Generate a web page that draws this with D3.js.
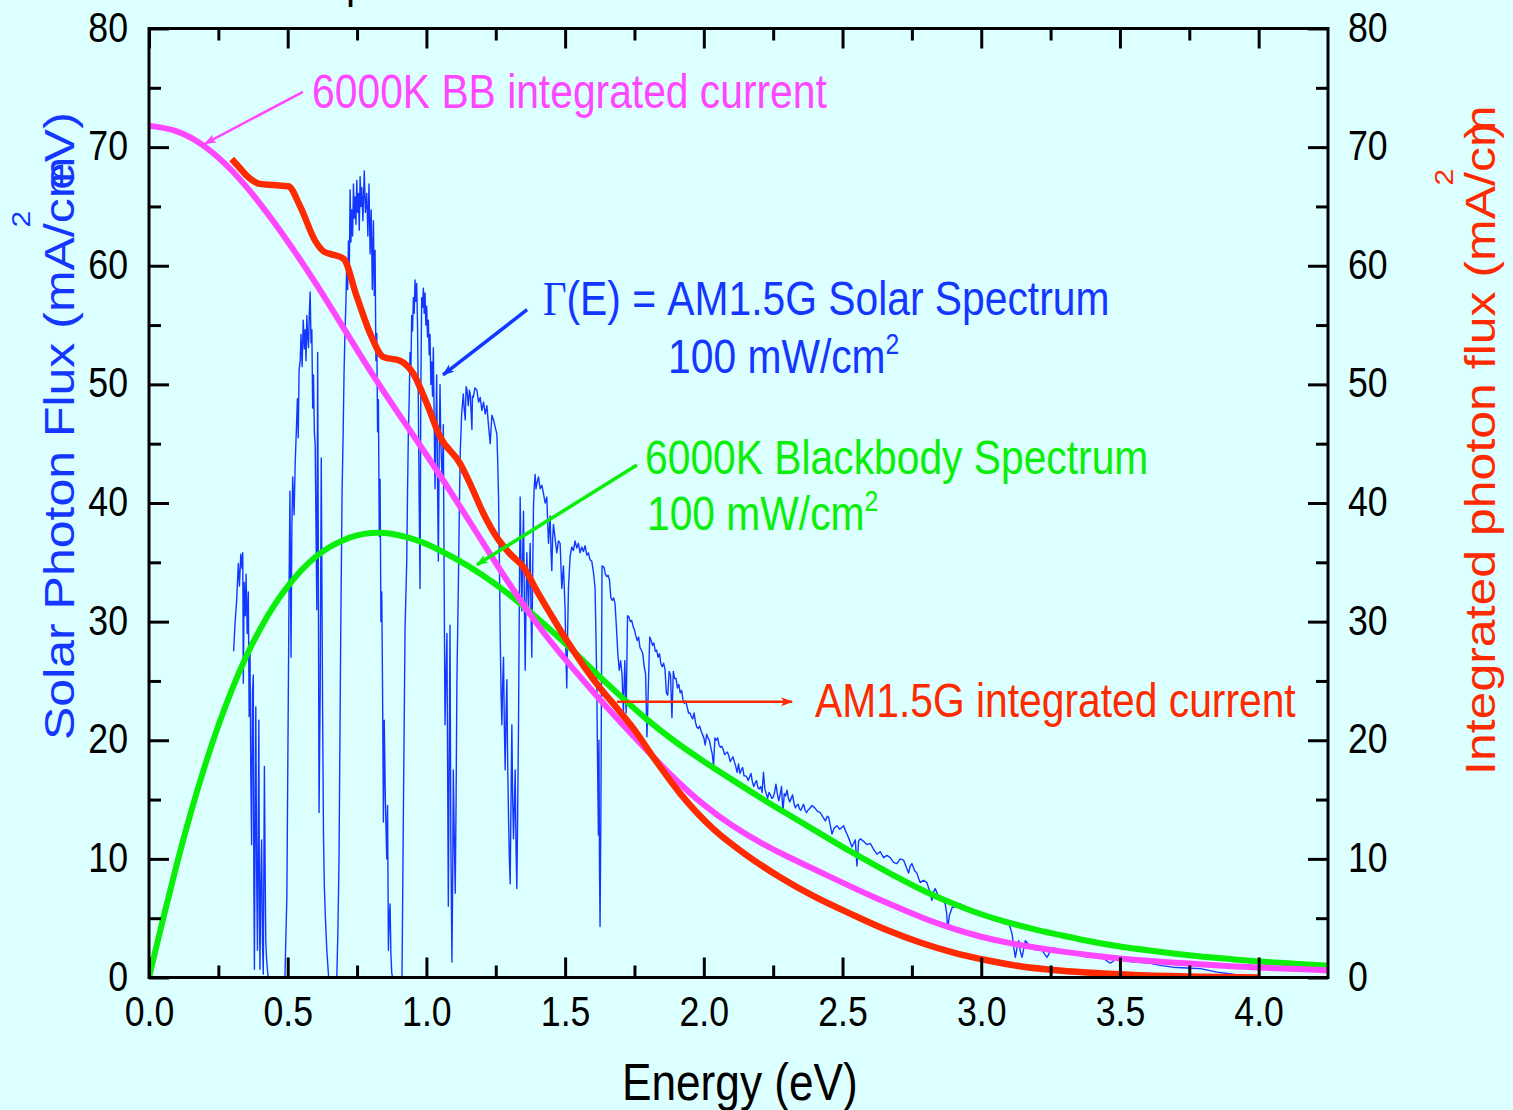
<!DOCTYPE html>
<html>
<head>
<meta charset="utf-8">
<script src="https://cdn.jsdelivr.net/npm/d3@7"></script>
<style>
  html, body { margin: 0; padding: 0; background: #dcffff; }
  svg { display: block; }
</style>
</head>
<body>
<script>
// Energy axis (eV) and flux axis (mA/cm2 eV, same 0-80 range on both sides)
var energyTicks = [0, 0.5, 1.0, 1.5, 2.0, 2.5, 3.0, 3.5, 4.0];
var energyMinorTicks = [0.25, 0.75, 1.25, 1.75, 2.25, 2.75, 3.25, 3.75];
var fluxTicks = [0, 10, 20, 30, 40, 50, 60, 70, 80];
var fluxMinorTicks = [5, 15, 25, 35, 45, 55, 65, 75];

// AM1.5G photon flux spectrum [E (eV), mA/cm2 eV]
var am15Spectrum = [
  [0.305, 27.5], [0.310, 29.8], [0.316, 31.8], [0.322, 34.9], [0.326, 33.0], [0.331, 35.7],
  [0.335, 34.5], [0.338, 35.8], [0.340, 24.8], [0.343, 33.3], [0.347, 30.5], [0.350, 34.0],
  [0.354, 29.0], [0.358, 32.5], [0.361, 22.0], [0.364, 28.2], [0.367, 17.0], [0.370, 11.2],
  [0.373, 24.0], [0.376, 25.5], [0.378, 8.0], [0.380, 0.7], [0.383, 15.0], [0.385, 22.8],
  [0.388, 9.0], [0.391, 2.3], [0.394, 14.0], [0.396, 21.7], [0.398, 6.0], [0.400, 0.7],
  [0.403, 8.0], [0.406, 11.6], [0.409, 3.0], [0.412, 0.3], [0.414, 9.0], [0.416, 17.8],
  [0.419, 8.0], [0.421, 3.0], [0.424, 1.5], [0.427, 0.6], [0.430, 0], [0.490, 0],
  [0.497, 6.9], [0.502, 23.2], [0.505, 33.0], [0.508, 41.0], [0.512, 27.0], [0.515, 38.0],
  [0.518, 42.2], [0.523, 39.0], [0.527, 43.4], [0.531, 46.0], [0.535, 48.8], [0.538, 45.5],
  [0.541, 51.2], [0.545, 52.0], [0.548, 54.2], [0.552, 51.5], [0.556, 55.4], [0.560, 53.0],
  [0.563, 54.6], [0.566, 52.0], [0.569, 55.8], [0.572, 54.0], [0.575, 53.1], [0.578, 56.0],
  [0.581, 57.8], [0.584, 53.5], [0.587, 54.6], [0.590, 48.0], [0.593, 50.8], [0.596, 46.0],
  [0.599, 44.9], [0.602, 38.0], [0.605, 31.0], [0.608, 52.7], [0.611, 30.0], [0.613, 13.9],
  [0.617, 24.0], [0.621, 43.8], [0.624, 30.0], [0.626, 21.7], [0.629, 12.0], [0.632, 7.7],
  [0.636, 5.0], [0.641, 2.3], [0.647, 0.2], [0.650, 0], [0.677, 0],
  [0.681, 4.0], [0.685, 10.0], [0.691, 28.6], [0.696, 41.0], [0.700, 46.0], [0.703, 50.8],
  [0.706, 54.0], [0.710, 57.0], [0.713, 60.5], [0.716, 58.0], [0.719, 62.1], [0.722, 59.5],
  [0.725, 66.4], [0.728, 62.0], [0.731, 64.7], [0.734, 62.5], [0.737, 66.9], [0.740, 64.0],
  [0.743, 65.8], [0.746, 63.5], [0.749, 67.2], [0.752, 64.5], [0.755, 66.1], [0.758, 63.0],
  [0.761, 67.5], [0.764, 65.0], [0.767, 66.6], [0.771, 63.8], [0.776, 68.0], [0.780, 64.5],
  [0.785, 66.1], [0.789, 62.5], [0.793, 66.9], [0.797, 61.0], [0.801, 64.7], [0.805, 58.0],
  [0.809, 63.8], [0.812, 57.5], [0.815, 61.3], [0.818, 52.0], [0.821, 54.3], [0.824, 46.0],
  [0.827, 48.7], [0.830, 37.2], [0.833, 42.0], [0.836, 30.0], [0.839, 32.5], [0.842, 24.0],
  [0.845, 13.1], [0.848, 21.7], [0.852, 15.0], [0.857, 10.0], [0.860, 14.5], [0.863, 2.3],
  [0.866, 5.0], [0.869, 6.2], [0.872, 2.0], [0.875, 0.4], [0.878, 0], [0.912, 0],
  [0.917, 13.9], [0.923, 29.4], [0.929, 35.0], [0.932, 41.0], [0.935, 46.0], [0.938, 48.8],
  [0.941, 52.7], [0.944, 51.0], [0.947, 55.8], [0.950, 54.5], [0.953, 57.3], [0.956, 56.0],
  [0.959, 58.8], [0.962, 57.0], [0.965, 58.5], [0.968, 55.0], [0.971, 48.2], [0.974, 40.0],
  [0.977, 32.8], [0.980, 50.0], [0.983, 57.3], [0.986, 56.5], [0.989, 58.1], [0.992, 56.0],
  [0.995, 57.7], [0.998, 55.0], [1.001, 56.6], [1.004, 54.0], [1.007, 55.4], [1.010, 52.5],
  [1.013, 54.2], [1.016, 50.0], [1.019, 51.9], [1.022, 49.0], [1.025, 53.1], [1.028, 47.0],
  [1.031, 41.2], [1.034, 46.0], [1.037, 50.8], [1.040, 42.0], [1.043, 35.1], [1.046, 44.0],
  [1.049, 50.0], [1.052, 45.0], [1.056, 42.4], [1.059, 44.0], [1.061, 46.6], [1.064, 33.0],
  [1.067, 21.3], [1.070, 25.0], [1.074, 29.0], [1.077, 15.0], [1.079, 6.0], [1.082, 18.0],
  [1.085, 29.7], [1.088, 12.0], [1.092, 1.3], [1.095, 9.0], [1.097, 17.5], [1.101, 11.0],
  [1.104, 7.1], [1.107, 15.0], [1.110, 25.1], [1.115, 32.8], [1.119, 40.0], [1.122, 44.3],
  [1.127, 47.5], [1.133, 49.2], [1.136, 48.0], [1.140, 47.0], [1.143, 49.8], [1.146, 49.6],
  [1.151, 48.2], [1.155, 49.5], [1.158, 49.2], [1.164, 46.2], [1.166, 49.0], [1.169, 48.9],
  [1.175, 49.7], [1.182, 49.5], [1.188, 48.5], [1.194, 48.9], [1.200, 47.8], [1.206, 48.5],
  [1.212, 47.5], [1.218, 48.2], [1.224, 46.5], [1.230, 45.0], [1.236, 47.4], [1.242, 47.0],
  [1.248, 46.4], [1.254, 45.8], [1.257, 43.5], [1.260, 40.5], [1.263, 35.0], [1.266, 29.0],
  [1.269, 24.0], [1.272, 21.3], [1.275, 25.0], [1.278, 27.0], [1.281, 21.0], [1.284, 17.5],
  [1.287, 22.0], [1.290, 25.1], [1.293, 18.0], [1.296, 13.6], [1.299, 10.0], [1.302, 7.9],
  [1.305, 15.0], [1.308, 21.3], [1.311, 15.0], [1.314, 11.7], [1.317, 14.5], [1.320, 17.5],
  [1.323, 11.0], [1.326, 7.5], [1.329, 14.0], [1.332, 21.3], [1.335, 32.0], [1.338, 40.5],
  [1.341, 35.0], [1.344, 30.9], [1.347, 35.5], [1.350, 39.3], [1.353, 32.0], [1.356, 25.9],
  [1.359, 31.0], [1.362, 35.8], [1.365, 33.0], [1.368, 30.9], [1.371, 34.0], [1.374, 36.6],
  [1.377, 31.0], [1.380, 27.0], [1.383, 34.0], [1.386, 39.7], [1.389, 41.5], [1.392, 42.4],
  [1.395, 41.2], [1.398, 41.6], [1.404, 42.2], [1.410, 41.2], [1.416, 41.5], [1.422, 40.8],
  [1.428, 40.0], [1.434, 40.5], [1.437, 38.5], [1.440, 36.6], [1.446, 38.9], [1.449, 36.0],
  [1.452, 34.3], [1.455, 37.0], [1.458, 38.2], [1.464, 37.0], [1.470, 35.8], [1.476, 36.8],
  [1.482, 36.6], [1.488, 32.8], [1.494, 34.7], [1.500, 31.0], [1.503, 27.0], [1.506, 24.4],
  [1.509, 29.0], [1.512, 32.8], [1.518, 35.5], [1.524, 36.3], [1.530, 36.0], [1.536, 36.8],
  [1.542, 36.2], [1.548, 36.6], [1.554, 35.8], [1.560, 36.3], [1.566, 35.9], [1.572, 36.4],
  [1.578, 35.6], [1.584, 35.8], [1.590, 35.2], [1.596, 35.1], [1.602, 34.2], [1.608, 32.8],
  [1.611, 29.0], [1.614, 25.1], [1.617, 18.0], [1.620, 12.0], [1.622, 20.0], [1.624, 9.0],
  [1.626, 4.3], [1.629, 14.0], [1.633, 34.7], [1.640, 34.6], [1.645, 34.0], [1.650, 33.8],
  [1.655, 33.9], [1.660, 33.5], [1.665, 32.0], [1.670, 31.8], [1.675, 32.0], [1.680, 31.5],
  [1.685, 29.5], [1.690, 27.3], [1.695, 25.9], [1.700, 26.7], [1.705, 25.6], [1.710, 22.3],
  [1.715, 26.7], [1.720, 22.3], [1.725, 30.5], [1.730, 30.4], [1.735, 30.0], [1.740, 30.1],
  [1.745, 29.6], [1.750, 29.3], [1.755, 28.8], [1.760, 28.4], [1.765, 28.7], [1.770, 27.8],
  [1.775, 27.6], [1.780, 27.3], [1.785, 26.2], [1.790, 25.6], [1.795, 20.3], [1.800, 24.5],
  [1.805, 28.7], [1.810, 28.4], [1.815, 28.0], [1.820, 28.2], [1.825, 27.5], [1.830, 27.6],
  [1.835, 27.0], [1.840, 27.3], [1.845, 26.5], [1.850, 26.2], [1.855, 26.5], [1.860, 26.0],
  [1.865, 24.0], [1.870, 23.8], [1.875, 25.8], [1.880, 25.5], [1.885, 21.9], [1.890, 25.8],
  [1.895, 25.2], [1.900, 25.2], [1.905, 24.4], [1.910, 24.7], [1.915, 24.0], [1.920, 24.2],
  [1.925, 23.4], [1.930, 23.1], [1.935, 23.3], [1.940, 22.8], [1.945, 22.3], [1.950, 22.3],
  [1.955, 22.0], [1.960, 21.8], [1.965, 22.3], [1.970, 21.5], [1.975, 21.1], [1.980, 21.0],
  [1.985, 21.2], [1.990, 20.8], [1.995, 20.5], [2.000, 20.2], [2.005, 19.6], [2.010, 20.5],
  [2.015, 20.2], [2.020, 20.0], [2.025, 19.4], [2.030, 18.9], [2.035, 17.8], [2.040, 20.2],
  [2.045, 20.0], [2.050, 20.2], [2.055, 19.6], [2.060, 19.4], [2.065, 19.5], [2.070, 19.2],
  [2.075, 18.8], [2.080, 18.9], [2.085, 19.0], [2.090, 18.7], [2.095, 18.2], [2.100, 18.4],
  [2.105, 18.6], [2.110, 18.2], [2.115, 17.8], [2.120, 17.3], [2.125, 18.0], [2.130, 17.2],
  [2.135, 17.5], [2.140, 17.7], [2.145, 17.0], [2.150, 17.0], [2.155, 16.9], [2.160, 16.6],
  [2.165, 16.9], [2.170, 17.2], [2.175, 16.5], [2.180, 16.1], [2.185, 16.4], [2.190, 16.6],
  [2.195, 16.0], [2.200, 15.9], [2.205, 16.1], [2.210, 15.6], [2.215, 17.3], [2.220, 15.9],
  [2.225, 15.5], [2.230, 15.1], [2.235, 15.6], [2.240, 15.4], [2.245, 15.1], [2.250, 15.2],
  [2.255, 15.6], [2.260, 16.3], [2.265, 15.5], [2.270, 14.9], [2.275, 15.4], [2.280, 16.1],
  [2.285, 13.9], [2.290, 15.5], [2.295, 15.3], [2.300, 15.8], [2.305, 15.1], [2.310, 14.8],
  [2.315, 15.1], [2.320, 15.4], [2.325, 14.7], [2.330, 14.3], [2.335, 14.5], [2.340, 14.6],
  [2.345, 14.2], [2.350, 14.1], [2.355, 14.4], [2.360, 14.6], [2.365, 14.1], [2.370, 13.9],
  [2.375, 14.1], [2.380, 14.2], [2.390, 14.5], [2.400, 14.3], [2.410, 14.0], [2.420, 13.9],
  [2.430, 13.5], [2.438, 13.2], [2.445, 13.6], [2.450, 13.5], [2.456, 12.8], [2.462, 12.1],
  [2.470, 12.6], [2.480, 12.8], [2.490, 12.5], [2.504, 12.8], [2.510, 12.4], [2.516, 12.1],
  [2.525, 11.6], [2.534, 11.0], [2.540, 11.3], [2.546, 11.6], [2.552, 9.4], [2.558, 11.5],
  [2.564, 11.7], [2.575, 11.5], [2.588, 11.2], [2.600, 11.3], [2.612, 10.8], [2.624, 10.4],
  [2.636, 10.6], [2.648, 10.1], [2.660, 10.3], [2.672, 10.1], [2.684, 9.7], [2.696, 9.6],
  [2.708, 10.0], [2.720, 9.9], [2.730, 9.3], [2.738, 8.8], [2.744, 9.4], [2.750, 9.6],
  [2.760, 9.0], [2.768, 8.8], [2.775, 8.3], [2.780, 8.0], [2.792, 8.2], [2.804, 8.0],
  [2.814, 7.3], [2.822, 6.5], [2.828, 7.2], [2.834, 7.5], [2.843, 7.0], [2.852, 6.8],
  [2.862, 6.5], [2.870, 6.2], [2.875, 5.5], [2.879, 4.1], [2.885, 5.2], [2.895, 5.9],
  [2.910, 6.0], [2.925, 6.2], [2.937, 5.9], [2.949, 5.8], [2.961, 5.7], [2.973, 5.6],
  [2.985, 5.5], [2.997, 5.4], [3.009, 5.2], [3.021, 5.1], [3.033, 5.2], [3.045, 5.1],
  [3.057, 4.9], [3.069, 5.0], [3.081, 4.8], [3.093, 4.7], [3.102, 4.4], [3.111, 3.7],
  [3.117, 2.6], [3.123, 1.7], [3.129, 2.5], [3.135, 3.1], [3.141, 2.2], [3.147, 1.7],
  [3.153, 2.4], [3.159, 3.1], [3.170, 2.8], [3.180, 2.6], [3.189, 2.4], [3.200, 2.3],
  [3.213, 2.5], [3.225, 2.1], [3.237, 1.7], [3.249, 2.2], [3.261, 2.5], [3.280, 2.3],
  [3.297, 2.2], [3.315, 2.0], [3.333, 2.0], [3.357, 1.9], [3.381, 1.7], [3.405, 1.8],
  [3.429, 1.7], [3.447, 1.5], [3.465, 1.2], [3.483, 1.5], [3.501, 1.6], [3.525, 1.4],
  [3.549, 1.3], [3.580, 1.25], [3.610, 1.2], [3.650, 1.0], [3.690, 0.87], [3.740, 0.8],
  [3.790, 0.75], [3.850, 0.45], [3.900, 0.3], [3.930, 0.17], [4.000, 0.05], [4.100, 0.02],
  [4.250, 0.02]
];

// 6000 K blackbody photon flux, scaled to 100 mW/cm2
var bbSpectrum = [
  [0, 0], [0.05, 4.9], [0.1, 9.6], [0.15, 13.9], [0.2, 17.8], [0.25, 21.3], [0.3, 24.4],
  [0.35, 27.1], [0.4, 29.4], [0.45, 31.4], [0.5, 33.0], [0.55, 34.4], [0.6, 35.5],
  [0.65, 36.3], [0.7, 36.9], [0.75, 37.3], [0.8, 37.5], [0.85, 37.5], [0.9, 37.3],
  [0.95, 37.0], [1.0, 36.6], [1.1, 35.4], [1.2, 34.0], [1.3, 32.3], [1.4, 30.3], [1.5, 28.2],
  [1.6, 25.9], [1.7, 23.7], [1.8, 21.6], [1.9, 19.8], [2.0, 18.2], [2.1, 16.7], [2.2, 15.2],
  [2.3, 13.8], [2.4, 12.4], [2.5, 11.0], [2.6, 9.7], [2.7, 8.4], [2.8, 7.2], [2.9, 6.2],
  [3.0, 5.3], [3.1, 4.6], [3.2, 4.0], [3.3, 3.5], [3.4, 3.0], [3.5, 2.6], [3.6, 2.3],
  [3.7, 2.0], [3.8, 1.75], [3.9, 1.55], [4.0, 1.35], [4.1, 1.2], [4.25, 1.0]
];

// integrated current of the 6000 K blackbody, right axis
var bbIntegrated = [
  [0, 71.8], [0.1, 71.5], [0.2, 70.2], [0.3, 68.1], [0.4, 65.3], [0.5, 62.1], [0.6, 58.6],
  [0.7, 54.8], [0.8, 51.0], [0.9, 47.5], [1.0, 44.1], [1.1, 40.5], [1.2, 36.8], [1.3, 33.1],
  [1.4, 29.7], [1.5, 26.8], [1.6, 24.1], [1.7, 21.5], [1.8, 19.0], [1.9, 16.6], [2.0, 14.5],
  [2.1, 12.8], [2.2, 11.4], [2.3, 10.2], [2.4, 9.1], [2.5, 8.0], [2.6, 6.9], [2.7, 5.9],
  [2.8, 4.9], [2.9, 4.1], [3.0, 3.4], [3.1, 2.9], [3.2, 2.5], [3.3, 2.15], [3.4, 1.85],
  [3.5, 1.6], [3.6, 1.4], [3.7, 1.25], [3.8, 1.1], [3.9, 0.95], [4.0, 0.85], [4.1, 0.75],
  [4.25, 0.6]
];

// integrated current of AM1.5G, right axis
var amIntegrated = [
  [0.298, 69.0], [0.325, 68.3], [0.352, 67.6], [0.40, 66.9], [0.45, 66.8], [0.502, 66.7],
  [0.545, 65.0], [0.599, 62.1], [0.63, 61.2], [0.653, 61.0], [0.701, 60.6], [0.749, 57.4],
  [0.797, 54.3], [0.845, 52.3], [0.905, 52.0], [0.953, 50.9], [1.001, 48.4], [1.049, 45.6],
  [1.122, 43.3], [1.158, 41.6], [1.206, 39.1], [1.254, 37.1], [1.302, 35.7], [1.350, 34.6],
  [1.398, 32.6], [1.446, 30.7], [1.506, 28.4], [1.566, 26.3], [1.626, 24.4], [1.687, 22.7],
  [1.746, 21.0], [1.82, 18.5], [1.915, 15.5], [2.035, 12.5], [2.155, 10.3], [2.275, 8.45],
  [2.396, 6.85], [2.54, 5.25], [2.66, 4.0], [2.78, 2.95], [2.90, 2.1], [3.02, 1.45],
  [3.14, 0.95], [3.26, 0.63], [3.38, 0.42], [3.55, 0.22], [3.79, 0.07], [4.0, 0]
];

var W = 1513, H = 1110;
var BLUE = '#1437ff', RED = '#ff2a00', MAGENTA = '#ff47ff', GREEN = '#0aee0a';
var SQ = 0.85; // the picture is a little narrow, squeeze text the same way

var svg = d3.select('body').append('svg').attr('width', W).attr('height', H)
    .style('font-family', '"Liberation Sans", Arial, sans-serif');
svg.append('rect').attr('width', W).attr('height', H).attr('fill', '#dcffff');

var x = d3.scaleLinear().domain([0, 4.25]).range([149, 1328]);
var y = d3.scaleLinear().domain([0, 80]).range([977.5, 28.5]);
var yRight = d3.scaleLinear().domain([0, 80]).range([977.5, 28.5]);

// arrow heads
var defs = svg.append('defs');
[['blue', BLUE], ['red', RED], ['magenta', MAGENTA], ['green', GREEN]].forEach(function (c) {
    defs.append('marker').attr('id', 'head-' + c[0])
        .attr('viewBox', '0 -5 12 10').attr('refX', 11).attr('refY', 0)
        .attr('markerWidth', 12).attr('markerHeight', 10).attr('markerUnits', 'userSpaceOnUse')
        .attr('orient', 'auto')
        .append('path').attr('d', 'M0,-4.5L12,0L0,4.5L3,0Z').attr('fill', c[1]);
});
defs.append('clipPath').attr('id', 'plot-clip').append('rect')
    .attr('x', x(0)).attr('y', y(80)).attr('width', x(4.25) - x(0)).attr('height', y(0) - y(80));

// curves
var line = d3.line().x(function (d) { return x(d[0]); }).y(function (d) { return y(d[1]); });
var lineRight = d3.line().x(function (d) { return x(d[0]); }).y(function (d) { return yRight(d[1]); });

var plot = svg.append('g').attr('clip-path', 'url(#plot-clip)');
plot.append('path').datum(am15Spectrum).attr('d', line)
    .attr('fill', 'none').attr('stroke', BLUE).attr('stroke-width', 1.4).attr('stroke-linejoin', 'round');
plot.append('path').datum(bbSpectrum).attr('d', line.curve(d3.curveBasis))
    .attr('fill', 'none').attr('stroke', GREEN).attr('stroke-width', 6);
plot.append('path').datum(bbIntegrated).attr('d', lineRight.curve(d3.curveBasis))
    .attr('fill', 'none').attr('stroke', MAGENTA).attr('stroke-width', 6);
plot.append('path').datum(amIntegrated).attr('d', lineRight.curve(d3.curveMonotoneX))
    .attr('fill', 'none').attr('stroke', RED).attr('stroke-width', 6.5).attr('stroke-linejoin', 'round');

// axes, ticks pointing in
function styleAxis(g) {
    g.select('.domain').remove();
    g.attr('font-family', null).attr('font-size', 42);
    g.selectAll('line').attr('stroke', '#000').attr('stroke-width', 3);
    g.selectAll('text').attr('fill', '#000');
}
svg.append('g').attr('transform', 'translate(0,' + y(0) + ')')
    .call(d3.axisBottom(x).tickValues(energyTicks).tickSize(-20).tickFormat(d3.format('.1f')))
    .call(styleAxis)
    .selectAll('text').attr('y', 49).attr('dy', null).attr('transform', 'scale(' + SQ + ',1)');
svg.append('g').attr('transform', 'translate(0,' + y(0) + ')')
    .call(d3.axisBottom(x).tickValues(energyMinorTicks).tickSize(-12).tickFormat(''))
    .call(styleAxis);
svg.append('g').attr('transform', 'translate(0,' + y(80) + ')')
    .call(d3.axisTop(x).tickValues(energyTicks).tickSize(-20).tickFormat(''))
    .call(styleAxis);
svg.append('g').attr('transform', 'translate(0,' + y(80) + ')')
    .call(d3.axisTop(x).tickValues(energyMinorTicks).tickSize(-12).tickFormat(''))
    .call(styleAxis);
svg.append('g').attr('transform', 'translate(' + x(0) + ',0)')
    .call(d3.axisLeft(y).tickValues(fluxTicks).tickSize(-20).tickFormat(d3.format('d')))
    .call(styleAxis)
    .selectAll('text').attr('x', -21 / SQ).attr('dy', '0.3em').attr('transform', 'scale(' + SQ + ',1)');
svg.append('g').attr('transform', 'translate(' + x(0) + ',0)')
    .call(d3.axisLeft(y).tickValues(fluxMinorTicks).tickSize(-12).tickFormat(''))
    .call(styleAxis);
svg.append('g').attr('transform', 'translate(' + x(4.25) + ',0)')
    .call(d3.axisRight(yRight).tickValues(fluxTicks).tickSize(-20).tickFormat(d3.format('d')))
    .call(styleAxis)
    .selectAll('text').attr('x', 20 / SQ).attr('dy', '0.3em').attr('transform', 'scale(' + SQ + ',1)');
svg.append('g').attr('transform', 'translate(' + x(4.25) + ',0)')
    .call(d3.axisRight(yRight).tickValues(fluxMinorTicks).tickSize(-12).tickFormat(''))
    .call(styleAxis);

// frame
svg.append('rect').attr('x', x(0)).attr('y', y(80))
    .attr('width', x(4.25) - x(0)).attr('height', y(0) - y(80))
    .attr('fill', 'none').attr('stroke', '#000').attr('stroke-width', 3);

// text helper: place at (px, py), optionally rotated, squeezed like the picture
function addText(px, py, size, color, rotate) {
    var t = 'translate(' + px + ',' + py + ')';
    t += rotate ? ' rotate(-90) scale(1,' + SQ + ')' : ' scale(' + SQ + ',1)';
    return svg.append('text').attr('transform', t).attr('font-size', size).attr('fill', color);
}
function addSquared(px, py, color) {
    var t = addText(px, py, 48, color);
    t.append('tspan').text('100 mW/cm');
    t.append('tspan').attr('font-size', 29).attr('dy', -19).text('2');
    return t;
}

// cut-off remnant of a title above the frame
addText(346, -3, 48, '#000').text('p');

// axis titles
addText(x(2.13), 1100, 52, '#000').attr('text-anchor', 'middle').text('Energy (eV)');

var leftTitle = addText(74, 740, 50, BLUE, true);
leftTitle.append('tspan').text('Solar Photon Flux (mA/cm');
leftTitle.append('tspan').attr('font-size', 30).attr('dx', -71).attr('dy', -52).text('2');
leftTitle.append('tspan').attr('dx', 21).attr('dy', 52).text('eV)');

var rightTitle = addText(1495, 775, 50, RED, true);
rightTitle.append('tspan').text('Integrated photon flux (mA/cm');
rightTitle.append('tspan').attr('font-size', 30).attr('dx', -80).attr('dy', -50).text('2');
rightTitle.append('tspan').attr('dx', 30).attr('dy', 50).text(')');

// annotations, placed in data units
function arrow(from, to, color, name, width) {
    svg.append('line')
        .attr('x1', x(from[0])).attr('y1', y(from[1]))
        .attr('x2', x(to[0])).attr('y2', y(to[1]))
        .attr('stroke', color).attr('stroke-width', width)
        .attr('marker-end', 'url(#head-' + name + ')');
}

addText(x(0.588), y(73.3), 48, MAGENTA).text('6000K BB integrated current');
arrow([0.555, 74.65], [0.202, 70.3], MAGENTA, 'magenta', 2.5);

var gammaText = addText(x(1.420), y(55.85), 48, BLUE);
gammaText.append('tspan').attr('font-family', '"Liberation Serif", serif').text('\u0393');
gammaText.append('tspan').text('(E) = AM1.5G Solar Spectrum');
addSquared(x(1.871), y(51.0), BLUE);
arrow([1.363, 56.3], [1.060, 50.8], BLUE, 'blue', 3.5);

addText(x(1.788), y(42.45), 48, GREEN).text('6000K Blackbody Spectrum');
addSquared(x(1.795), y(37.7), GREEN);
arrow([1.759, 43.2], [1.182, 34.8], GREEN, 'green', 3.5);

addText(x(2.401), y(21.96), 48, RED).text('AM1.5G integrated current');
arrow([1.687, 23.25], [2.318, 23.25], RED, 'red', 2.5);
</script>
</body>
</html>
